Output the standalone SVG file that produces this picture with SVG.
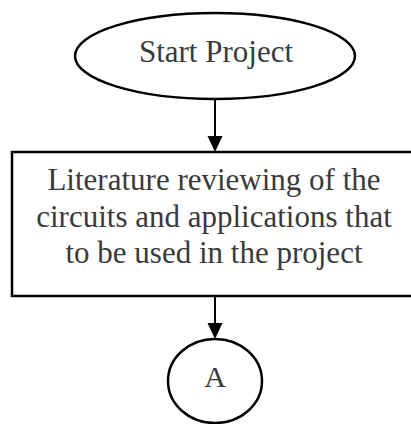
<svg xmlns="http://www.w3.org/2000/svg" width="411" height="424" viewBox="0 0 411 424">
<style>
.shape{fill:#fff;stroke:#000;stroke-width:2.5}
.t{font-family:"Liberation Serif","Times New Roman",serif;fill:#3a3a3a;text-anchor:middle}
.c{stroke:#000;stroke-width:2;fill:none}
</style>
<rect width="411" height="424" fill="#fff"/>
<g id="connectors">
<path class="c" d="M215,100 V136"/>
<path d="M207.5,136 L222.5,136 L215,152 Z" fill="#000"/>
<path class="c" d="M215,296 V323"/>
<path d="M207.5,323 L222.5,323 L215,339 Z" fill="#000"/>
</g>
<g id="start">
<ellipse class="shape" cx="215" cy="56" rx="140" ry="43"/>
<text class="t" x="216" y="62" font-size="31">Start Project</text>
</g>
<g id="literature">
<rect class="shape" x="12" y="152" width="405" height="144"/>
<text class="t" font-size="31"><tspan x="214" y="190">Literature reviewing of the</tspan><tspan x="214" y="226.5">circuits and applications that</tspan><tspan x="214" y="263">to be used in the project</tspan></text>
</g>
<g id="connectorA">
<ellipse class="shape" cx="215" cy="381" rx="47" ry="42"/>
<text class="t" x="215" y="387" font-size="30">A</text>
</g>
</svg>
